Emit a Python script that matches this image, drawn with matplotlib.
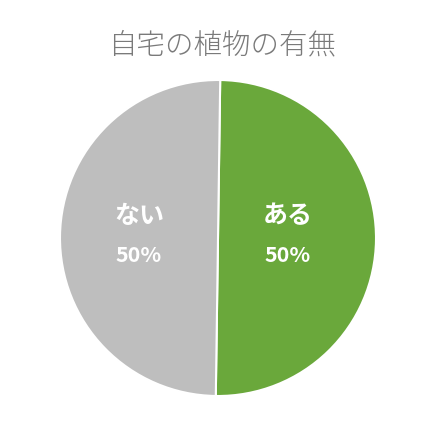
import matplotlib
matplotlib.use("Agg")
import matplotlib.pyplot as plt

plt.rcParams['font.family'] = ['Noto Sans CJK JP', 'DejaVu Sans']

# data
labels = ['ある', 'ない']
values = [50, 50]
colors = ['#6AA83B', '#BEBEBE']
title = '自宅の植物の有無'

fig = plt.figure(figsize=(4.33, 4.45), dpi=100)
ax = fig.add_axes([(218 - 158) / 433, (207 - 158) / 445, 316 / 433, 316 / 445])

wedges, _ = ax.pie(values, colors=colors, startangle=89.2, counterclock=False,
                   wedgeprops=dict(edgecolor='white', linewidth=1.5))
ax.set_xlim(-1, 1)
ax.set_ylim(-1, 1)

# labels inside each slice
total = sum(values)
label_x = [0.44, -0.5]
for name, val, lx in zip(labels, values, label_x):
    ax.text(lx, 0.14, name, ha='center', va='center', color='white',
            fontsize=18, fontweight='bold')
    ax.text(lx, -0.11, f'{val / total * 100:.0f}%', ha='center', va='center',
            color='white', fontsize=15.5, fontweight='bold')

fig.text(0.513, 1 - 45 / 445, title, ha='center', va='center',
         fontsize=20.5, color='#7a7a7a', fontweight='light')

fig.savefig('out.png', dpi=100)
